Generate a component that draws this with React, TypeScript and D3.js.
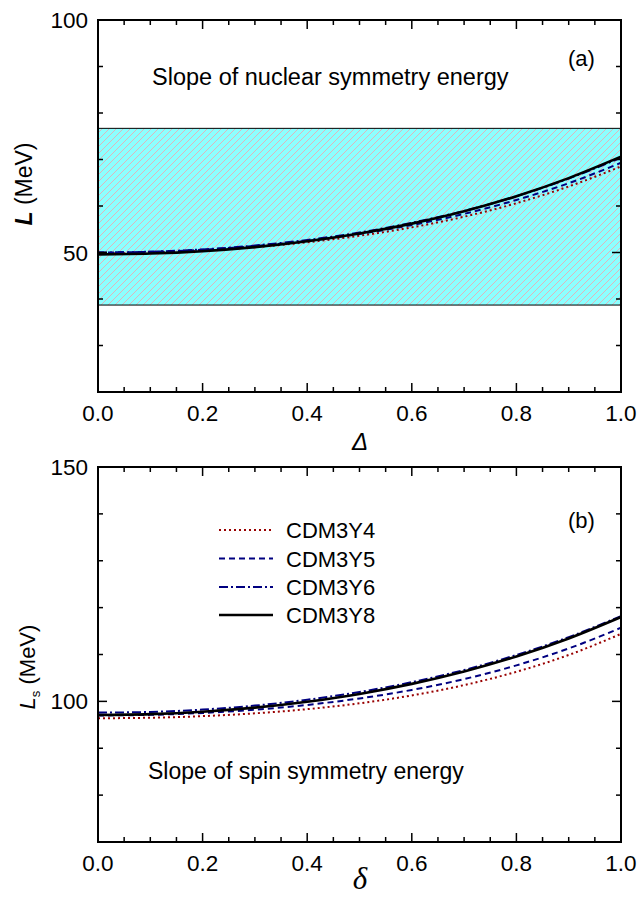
import React from "react";
import * as d3 from "d3";

// ---------- data ----------
const xs = [0, 0.1, 0.2, 0.3, 0.4, 0.5, 0.6, 0.7, 0.8, 0.9, 1.0];

// Panel (a): slope of nuclear symmetry energy L (MeV)
const L_Y4 = [49.8, 49.95, 50.4, 51.15, 52.2, 53.6, 55.4, 57.7, 60.6, 64.2, 68.5];
const L_Y5 = [50.0, 50.15, 50.6, 51.4, 52.5, 54.0, 55.9, 58.3, 61.3, 64.9, 69.3];
const L_Y6 = [50.0, 50.17, 50.66, 51.5, 52.7, 54.3, 56.4, 58.95, 62.1, 65.9, 70.4];
const L_Y8 = [49.6, 49.77, 50.28, 51.15, 52.41, 54.08, 56.21, 58.86, 62.11, 66.0, 70.6];

// Empirical band for L
const bandLow = 38.7;
const bandHigh = 76.7;

// Panel (b): slope of spin symmetry energy Ls (MeV)
const Ls_Y4 = [96.4, 96.51, 96.85, 97.45, 98.34, 99.59, 101.27, 103.47, 106.31, 109.9, 114.4];
const Ls_Y5 = [97.0, 97.13, 97.53, 98.22, 99.24, 100.63, 102.44, 104.76, 107.68, 111.29, 115.7];
const Ls_Y6 = [97.6, 97.75, 98.25, 99.1, 100.35, 102.0, 104.1, 106.7, 109.9, 113.7, 118.2];
const Ls_Y8 = [97.1, 97.27, 97.79, 98.66, 99.92, 101.59, 103.73, 106.37, 109.58, 113.43, 118.0];

const seriesNames = ["CDM3Y4", "CDM3Y5", "CDM3Y6", "CDM3Y8"];
const xTickLabels = ["0.0", "0.2", "0.4", "0.6", "0.8", "1.0"];
const yTicksA = [50, 100];
const yTicksB = [100, 150];

// ---------- styles ----------
const styles = [
  { color: "#990000", dash: "2,3", width: 2 },
  { color: "#000080", dash: "6,4", width: 2 },
  { color: "#000080", dash: "9,3,2,3", width: 2 },
  { color: "#000000", dash: "", width: 2.6 },
];

const W = 639;
const H = 897;
const X0 = 98;
const X1 = 621;
const FONT = "'Liberation Sans', Arial, sans-serif";
const TICK_FS = 22.5;

function Frame({ y0, y1, yScale, yMajor, yDomain }: any) {
  const x = d3.scaleLinear().domain([0, 1]).range([X0, X1]);
  const xMinor = d3.range(0, 1.0001, 0.05);
  const yMinor = d3.range(yDomain[0], yDomain[1] + 0.001, 10);
  const els: any[] = [];
  xMinor.forEach((v, i) => {
    const major = i % 4 === 0;
    const len = major ? 9 : 5;
    const px = x(v);
    els.push(<line key={"xb" + i} x1={px} x2={px} y1={y1} y2={y1 - len} stroke="#000" strokeWidth={1.5} />);
    els.push(<line key={"xt" + i} x1={px} x2={px} y1={y0} y2={y0 + len} stroke="#000" strokeWidth={1.5} />);
  });
  yMinor.forEach((v, i) => {
    const major = yMajor.includes(v);
    const len = major ? 9 : 5;
    const py = yScale(v);
    els.push(<line key={"yl" + i} x1={X0} x2={X0 + len} y1={py} y2={py} stroke="#000" strokeWidth={1.5} />);
    els.push(<line key={"yr" + i} x1={X1} x2={X1 - len} y1={py} y2={py} stroke="#000" strokeWidth={1.5} />);
  });
  return (
    <g>
      {els}
      <rect x={X0} y={y0} width={X1 - X0} height={y1 - y0} fill="none" stroke="#000" strokeWidth={2} />
      {xTickLabels.map((t, i) => (
        <text key={"xl" + i} x={x(+t)} y={y1 + 29} textAnchor="middle" fontFamily={FONT} fontSize={TICK_FS}>
          {t}
        </text>
      ))}
      {yMajor.map((v: number) => (
        <text key={"ylab" + v} x={X0 - 10} y={yScale(v) + 8} textAnchor="end" fontFamily={FONT} fontSize={TICK_FS}>
          {v}
        </text>
      ))}
    </g>
  );
}

export default function App() {
  const x = d3.scaleLinear().domain([0, 1]).range([X0, X1]);
  const yA = d3.scaleLinear().domain([20, 100]).range([392, 20]);
  const yB = d3.scaleLinear().domain([70, 150]).range([842, 467]);

  const lineA = d3
    .line<number>()
    .x((_, i) => x(xs[i]))
    .y((d) => yA(d))
    .curve(d3.curveMonotoneX);
  const lineB = d3
    .line<number>()
    .x((_, i) => x(xs[i]))
    .y((d) => yB(d))
    .curve(d3.curveMonotoneX);

  const seriesA = [L_Y4, L_Y5, L_Y6, L_Y8];
  const seriesB = [Ls_Y4, Ls_Y5, Ls_Y6, Ls_Y8];

  const legendY = [530, 558.5, 587, 615];

  return (
    <svg
      width={W}
      height={H}
      style={{ position: "absolute", left: 0, top: 0, background: "#fff" }}
      xmlns="http://www.w3.org/2000/svg"
    >
      <defs>
        <pattern id="hatch" patternUnits="userSpaceOnUse" width={7} height={7}>
          <rect width={7} height={7} fill="#8CFFFF" />
          <path d="M-1,1 L1,-1 M0,7 L7,0 M6,8 L8,6" stroke="#E8AEB4" strokeWidth={0.9} />
        </pattern>
        <clipPath id="clipA">
          <rect x={X0} y={20} width={X1 - X0} height={372} />
        </clipPath>
        <clipPath id="clipB">
          <rect x={X0} y={467} width={X1 - X0} height={375} />
        </clipPath>
      </defs>
      <rect width={W} height={H} fill="#fff" />

      {/* ---------- panel (a) ---------- */}
      <rect
        x={X0}
        y={yA(bandHigh)}
        width={X1 - X0}
        height={yA(bandLow) - yA(bandHigh)}
        fill="url(#hatch)"
        stroke="#000"
        strokeWidth={1}
      />
      <g clipPath="url(#clipA)">
        {seriesA.map((s, i) => (
          <path
            key={"a" + i}
            d={lineA(s) || ""}
            fill="none"
            stroke={styles[i].color}
            strokeWidth={styles[i].width}
            strokeDasharray={styles[i].dash}
          />
        ))}
      </g>
      <Frame y0={20} y1={392} yScale={yA} yMajor={yTicksA} yDomain={[20, 100]} />
      <text x={152} y={85} fontFamily={FONT} fontSize={23.5}>
        Slope of nuclear symmetry energy
      </text>
      <text x={568} y={66} fontFamily={FONT} fontSize={22}>
        (a)
      </text>
      <text
        transform={`translate(32, 184) rotate(-90)`}
        textAnchor="middle"
        fontFamily={FONT}
        fontSize={23}
      >
        <tspan fontStyle="italic" fontWeight="bold">L</tspan>
        <tspan> (MeV)</tspan>
      </text>
      <text x={360} y={450} textAnchor="middle" fontFamily={FONT} fontStyle="italic" fontSize={24}>
        Δ
      </text>

      {/* ---------- panel (b) ---------- */}
      <g clipPath="url(#clipB)">
        {seriesB.map((s, i) => (
          <path
            key={"b" + i}
            d={lineB(s) || ""}
            fill="none"
            stroke={styles[i].color}
            strokeWidth={styles[i].width}
            strokeDasharray={styles[i].dash}
          />
        ))}
      </g>
      <Frame y0={467} y1={842} yScale={yB} yMajor={yTicksB} yDomain={[70, 150]} />
      {seriesNames.map((n, i) => (
        <g key={"lg" + i}>
          <line
            x1={219}
            x2={273}
            y1={legendY[i]}
            y2={legendY[i]}
            stroke={styles[i].color}
            strokeWidth={styles[i].width}
            strokeDasharray={styles[i].dash}
          />
          <text x={286} y={legendY[i] + 8} fontFamily={FONT} fontSize={22}>
            {n}
          </text>
        </g>
      ))}
      <text x={568} y={528} fontFamily={FONT} fontSize={22}>
        (b)
      </text>
      <text x={148} y={779} fontFamily={FONT} fontSize={23}>
        Slope of spin symmetry energy
      </text>
      <text
        transform={`translate(35, 667) rotate(-90)`}
        textAnchor="middle"
        fontFamily={FONT}
        fontSize={22}
      >
        <tspan fontStyle="italic">L</tspan>
        <tspan fontSize={13} dy={5}>s</tspan>
        <tspan dy={-5}> (MeV)</tspan>
      </text>
      <text
        x={360}
        y={889}
        textAnchor="middle"
        fontFamily="'Liberation Serif', 'Times New Roman', serif"
        fontStyle="italic"
        fontSize={31}
      >
        δ
      </text>
    </svg>
  );
}
